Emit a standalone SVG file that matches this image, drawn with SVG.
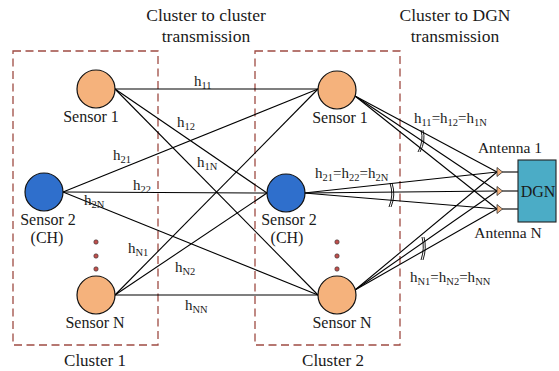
<svg xmlns="http://www.w3.org/2000/svg" width="559" height="371" viewBox="0 0 559 371" font-family="'Liberation Serif', 'DejaVu Serif', serif">
<style>
text{font-family:'Liberation Serif','DejaVu Serif',serif;fill:#1a1a1a}
.t{font-size:17.5px;text-anchor:middle}
.l{font-size:16px;text-anchor:middle}
.h{font-size:15px}
.s{font-size:10.5px}
.box{fill:none;stroke:#9E4B43;stroke-width:1.3;stroke-dasharray:8,4.5}
.or{fill:#F5B27C;stroke:#111;stroke-width:1.2}
.bl{fill:#2F6FCC;stroke:#111;stroke-width:1.2}
.dot{fill:#C0504D;stroke:#333;stroke-width:0.6}
.c line{stroke:#000;stroke-width:1.1}
.mk{fill:none;stroke:#000;stroke-width:0.9}
.ant{fill:#F5B27C;stroke:#333;stroke-width:0.8}
</style>
<rect width="559" height="371" fill="#fff"/>
<text class="t" x="206" y="21">Cluster to cluster</text>
<text class="t" x="206" y="42">transmission</text>
<text class="t" x="455" y="21">Cluster to DGN</text>
<text class="t" x="455" y="42">transmission</text>
<g id="cluster1"><rect class="box" x="13" y="51" width="145" height="294"/><text class="l" x="95" y="366" style="font-size:17px">Cluster 1</text></g>
<g id="cluster2"><rect class="box" x="255" y="51" width="145" height="294"/><text class="l" x="333" y="366" style="font-size:17px">Cluster 2</text></g>
<g class="c" id="connectors">
<line x1="115" y1="89" x2="318" y2="89"/>
<line x1="115" y1="89" x2="267" y2="193"/>
<line x1="115" y1="89" x2="318" y2="295"/>
<line x1="63" y1="192" x2="318" y2="89"/>
<line x1="63" y1="192" x2="267" y2="193"/>
<line x1="63" y1="192" x2="318" y2="295"/>
<line x1="115" y1="295" x2="318" y2="89"/>
<line x1="115" y1="295" x2="267" y2="193"/>
<line x1="115" y1="295" x2="318" y2="295"/>
<line x1="355" y1="96" x2="497" y2="172"/>
<line x1="355" y1="96" x2="497" y2="191"/>
<line x1="355" y1="96" x2="497" y2="209"/>
<line x1="304" y1="193" x2="497" y2="172"/>
<line x1="304" y1="193" x2="497" y2="191"/>
<line x1="304" y1="193" x2="497" y2="209"/>
<line x1="355" y1="290" x2="497" y2="172"/>
<line x1="355" y1="290" x2="497" y2="191"/>
<line x1="355" y1="290" x2="497" y2="209"/>
<line x1="502" y1="172" x2="518" y2="172"/>
<line x1="502" y1="191" x2="518" y2="191"/>
<line x1="502" y1="209" x2="518" y2="209"/>
<path class="mk" d="M423,130 Q426,141 420,152 M421,130 Q424,141 418,152"/>
<path class="mk" d="M392,183 Q396,195 391,207 M390,183 Q394,195 389,207"/>
<path class="mk" d="M424,237 Q427,248 423,260 M422,237 Q425,248 421,260"/>
</g>
<g id="labels">
<text class="h" x="194" y="86">h<tspan class="s" dy="3">11</tspan></text>
<text class="h" x="177" y="127">h<tspan class="s" dy="3">12</tspan></text>
<text class="h" x="197" y="167">h<tspan class="s" dy="3">1N</tspan></text>
<text class="h" x="113" y="160">h<tspan class="s" dy="3">21</tspan></text>
<text class="h" x="133" y="190">h<tspan class="s" dy="3">22</tspan></text>
<text class="h" x="84" y="205">h<tspan class="s" dy="3">2N</tspan></text>
<text class="h" x="128" y="253">h<tspan class="s" dy="3">N1</tspan></text>
<text class="h" x="175" y="272">h<tspan class="s" dy="3">N2</tspan></text>
<text class="h" x="185" y="310">h<tspan class="s" dy="3">NN</tspan></text>
<text class="h" x="414" y="123">h<tspan class="s" dy="3">11</tspan><tspan dy="-3">=h</tspan><tspan class="s" dy="3">12</tspan><tspan dy="-3">=h</tspan><tspan class="s" dy="3">1N</tspan></text>
<text class="h" x="315" y="178">h<tspan class="s" dy="3">21</tspan><tspan dy="-3">=h</tspan><tspan class="s" dy="3">22</tspan><tspan dy="-3">=h</tspan><tspan class="s" dy="3">2N</tspan></text>
<text class="h" x="410" y="282">h<tspan class="s" dy="3">N1</tspan><tspan dy="-3">=h</tspan><tspan class="s" dy="3">N2</tspan><tspan dy="-3">=h</tspan><tspan class="s" dy="3">NN</tspan></text>
</g>
<g id="c1-sensor1"><circle class="or" cx="96" cy="89" r="19"/><text class="l" x="91" y="122">Sensor 1</text></g>
<g id="c1-sensor2"><circle class="bl" cx="44" cy="192" r="19"/><text class="l" x="48" y="225">Sensor 2</text><text class="l" x="47" y="243">(CH)</text></g>
<g id="c1-dots"><circle class="dot" cx="96" cy="242" r="2.2"/><circle class="dot" cx="96" cy="256" r="2.2"/><circle class="dot" cx="96" cy="269" r="2.2"/></g>
<g id="c1-sensorN"><circle class="or" cx="96" cy="295" r="19"/><text class="l" x="95" y="328">Sensor N</text></g>
<g id="c2-sensor1"><circle class="or" cx="337" cy="90" r="19"/><text class="l" x="340" y="123">Sensor 1</text></g>
<g id="c2-sensor2"><circle class="bl" cx="286" cy="193" r="19"/><text class="l" x="289" y="225">Sensor 2</text><text class="l" x="287" y="243">(CH)</text></g>
<g id="c2-dots"><circle class="dot" cx="337" cy="242" r="2.2"/><circle class="dot" cx="337" cy="256" r="2.2"/><circle class="dot" cx="337" cy="269" r="2.2"/></g>
<g id="c2-sensorN"><circle class="or" cx="337" cy="295" r="19"/><text class="l" x="342" y="328">Sensor N</text></g>
<g id="antennas">
<polygon class="ant" points="497,167.5 502.5,172 497,176.5"/>
<polygon class="ant" points="497,186.5 502.5,191 497,195.5"/>
<polygon class="ant" points="497,204.5 502.5,209 497,213.5"/>
<text class="l" x="510" y="153" style="font-size:15.5px">Antenna 1</text>
<text class="l" x="508" y="238" style="font-size:15.5px">Antenna N</text>
</g>
<g id="dgn"><rect x="518" y="160" width="38" height="62" fill="#4BACC6" stroke="#222" stroke-width="1.1"/><text class="l" x="538" y="197">DGN</text></g>
</svg>
